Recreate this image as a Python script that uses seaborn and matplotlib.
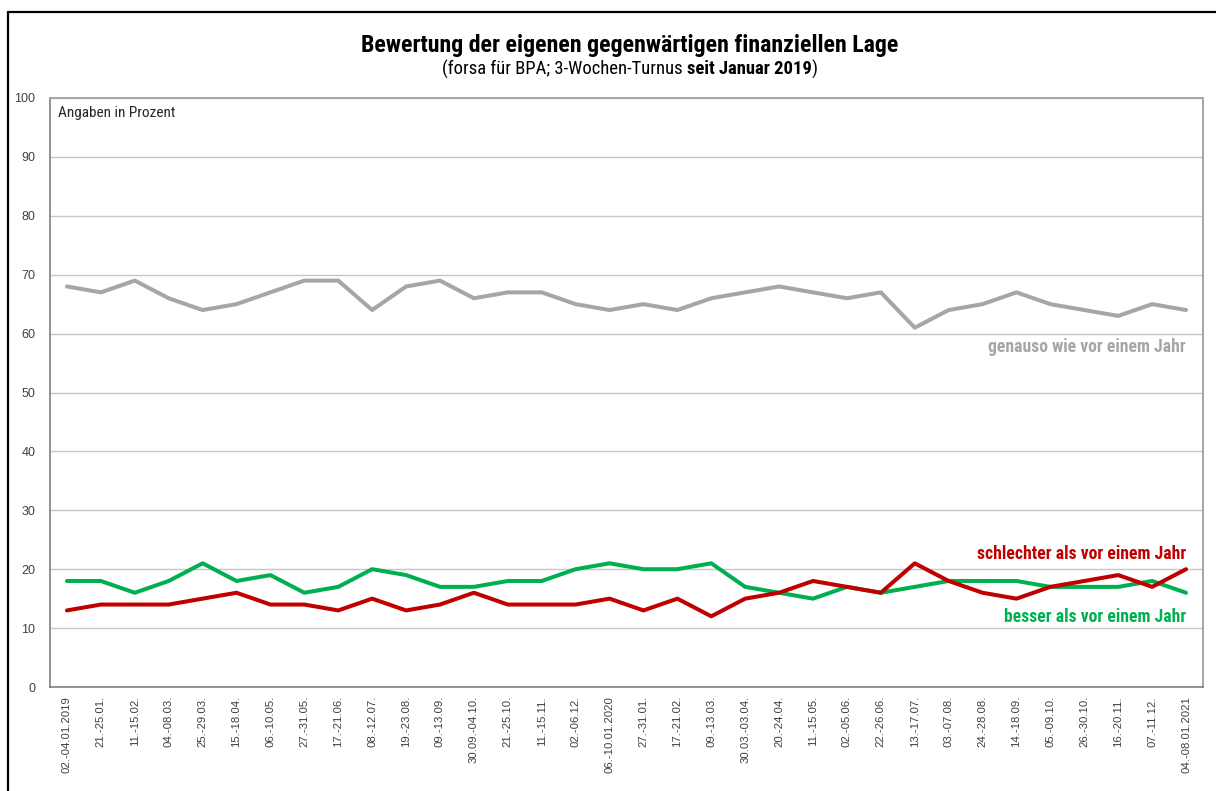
import numpy as np
import pandas as pd
import matplotlib
matplotlib.use("Agg")
import matplotlib.pyplot as plt
from matplotlib.lines import Line2D
from matplotlib import font_manager
import seaborn as sns

# ---- data ----
dates = ["02.-04.01.2019", "21.-25.01.", "11.-15.02.", "04.-08.03.", "25.-29.03.",
         "15.-18.04.", "06.-10.05.", "27.-31.05.", "17.-21.06.", "08.-12.07.",
         "19.-23.08.", "09.-13.09.", "30.09.-04.10.", "21.-25.10.", "11.-15.11.",
         "02.-06.12.", "06.-10.01.2020", "27.-31.01.", "17.-21.02.", "09.-13.03.",
         "30.03.-03.04.", "20.-24.04.", "11.-15.05.", "02.-05.06.", "22.-26.06.",
         "13.-17.07.", "03.-07.08.", "24.-28.08.", "14.-18.09.", "05.-09.10.",
         "26.-30.10.", "16.-20.11.", "07.-11.12.", "04.-08.01.2021"]
genauso = [68, 67, 69, 66, 64, 65, 67, 69, 69, 64, 68, 69, 66, 67, 67, 65, 64,
           65, 64, 66, 67, 68, 67, 66, 67, 61, 64, 65, 67, 65, 64, 63, 65, 64]
besser = [18, 18, 16, 18, 21, 18, 19, 16, 17, 20, 19, 17, 17, 18, 18, 20, 21,
          20, 20, 21, 17, 16, 15, 17, 16, 17, 18, 18, 18, 17, 17, 17, 18, 16]
schlechter = [13, 14, 14, 14, 15, 16, 14, 14, 13, 15, 13, 14, 16, 14, 14, 14, 15,
              13, 15, 12, 15, 16, 18, 17, 16, 21, 18, 16, 15, 17, 18, 19, 17, 20]
series_names = ["genauso wie vor einem Jahr", "besser als vor einem Jahr",
                "schlechter als vor einem Jahr"]
y_ticks = [0, 10, 20, 30, 40, 50, 60, 70, 80, 90, 100]

title = "Bewertung der eigenen gegenwärtigen finanziellen Lage"
sub_normal = "(forsa für BPA; 3-Wochen-Turnus "
sub_bold = "seit Januar 2019"
sub_end = ")"
unit_note = "Angaben in Prozent"

colors = {series_names[0]: "#A6A6A6", series_names[1]: "#00B050",
          series_names[2]: "#C00000"}

# ---- style ----
sns.set_theme(style="white")
avail = {f.name for f in font_manager.fontManager.ttflist}
narrow = "DejaVu Sans"
for cand in ["Liberation Sans Narrow", "Roboto Condensed", "Open Sans Condensed",
             "Roboto", "Lato"]:
    if cand in avail:
        narrow = cand
        break
plt.rcParams["font.family"] = ["Liberation Sans", "DejaVu Sans"]

idx = np.arange(len(dates))
df = pd.concat([
    pd.DataFrame({"idx": idx, "Wert": vals, "Reihe": name})
    for name, vals in zip(series_names, [genauso, besser, schlechter])
], ignore_index=True)

W, H = 1216, 791
fig = plt.figure(figsize=(W / 100, H / 100), dpi=100)
ax = fig.add_axes([50 / W, 1 - 687 / H, (1203 - 50) / W, (687 - 98) / H])

for y in y_ticks[1:]:
    ax.axhline(y, color="#C6C6C6", lw=1.0, zorder=0)

sns.lineplot(data=df, x="idx", y="Wert", hue="Reihe", hue_order=series_names,
             palette=colors, linewidth=2.9, legend=False, ax=ax, zorder=3)

ax.set_xlim(-0.5, len(dates) - 0.5)
ax.set_ylim(0, 100)
ax.set_yticks(y_ticks)
ax.set_yticklabels([str(v) for v in y_ticks], fontsize=9, color="#404040")
ax.set_xticks(idx)
ax.set_xticklabels(dates, rotation=90, fontsize=8.2, color="#404040",
                   va="top", ha="center")
ax.tick_params(axis="both", length=0)
ax.tick_params(axis="y", pad=10.5)
ax.tick_params(axis="x", pad=6.5)
ax.set_xlabel("")
ax.set_ylabel("")
for side in ["left", "bottom"]:
    ax.spines[side].set_color("#7F7F7F")
    ax.spines[side].set_linewidth(1.2)
for side in ["top", "right"]:
    ax.spines[side].set_color("#A6A6A6")
    ax.spines[side].set_linewidth(1.4)

ax.text(-0.27, 97.5, unit_note, fontsize=11, color="#262626",
        va="center", ha="left", family=narrow)

# series labels
lbl_x = len(dates) - 1
ax.text(lbl_x, 57.8, series_names[0], color="#A6A6A6", fontsize=12.7,
        fontweight="bold", family=narrow, ha="right", va="center")
ax.text(lbl_x, 22.6, series_names[2], color="#C00000", fontsize=12.7,
        fontweight="bold", family=narrow, ha="right", va="center")
ax.text(lbl_x, 11.8, series_names[1], color="#00B050", fontsize=12.7,
        fontweight="bold", family=narrow, ha="right", va="center")

# title
cx = 630
fig.text(cx / W, 1 - 45.5 / H, title, fontsize=17.2, fontweight="bold", family=narrow,
         ha="center", va="center", color="#000000")

# subtitle with mixed weights
fig.canvas.draw()
r = fig.canvas.get_renderer()
sy = 1 - 69 / H
parts = [(sub_normal, "normal"), (sub_bold, "bold"), (sub_end, "normal")]
objs = []
for s, w in parts:
    t = fig.text(0, sy, s, fontsize=13.4, fontweight=w, family=narrow,
                 ha="left", va="center", color="#000000")
    objs.append(t)
widths = [t.get_window_extent(renderer=r).width for t in objs]
total = sum(widths)
x0 = cx - total / 2
for t, wd in zip(objs, widths):
    t.set_x(x0 / W)
    x0 += wd

# outer frame lines
fig.add_artist(Line2D([8 / W, 1], [1 - 12 / H, 1 - 12 / H], color="#000000", lw=1.6,
                      transform=fig.transFigure))
fig.add_artist(Line2D([8 / W, 8 / W], [0, 1 - 12 / H], color="#000000", lw=1.6,
                      transform=fig.transFigure))

fig.savefig("out.png", dpi=100, facecolor="white")
